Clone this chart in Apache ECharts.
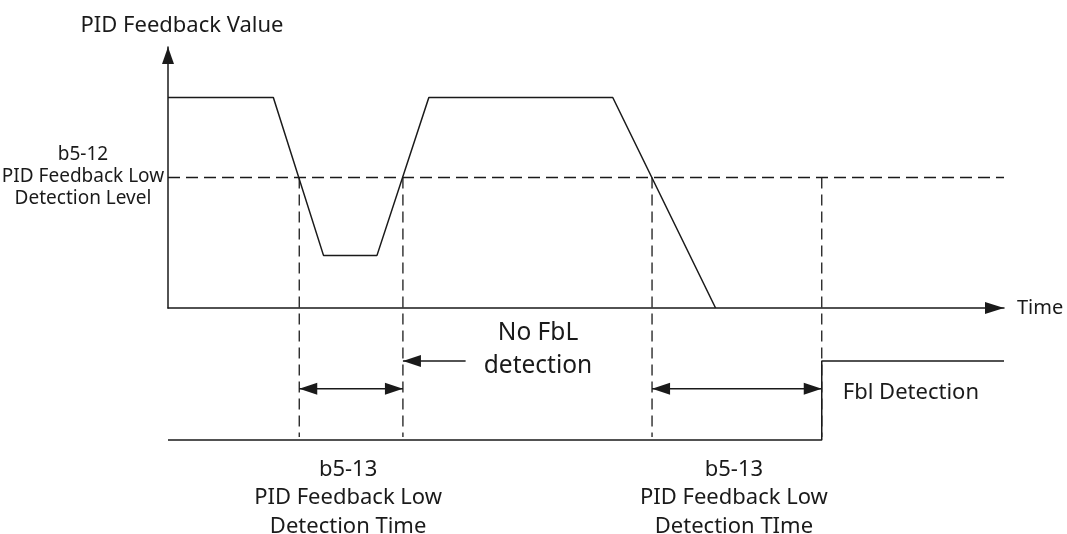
<!DOCTYPE html>
<html>
<head>
<meta charset="utf-8">
<script src="https://cdn.jsdelivr.net/npm/echarts@6/dist/echarts.min.js"></script>
<style>
html,body{margin:0;padding:0;background:#ffffff;}
#chart{width:1067px;height:534px;}
</style>
</head>
<body>
<div id="chart"></div>
<script>
// ---------- data ----------
const feedbackTime   = [0, 12.6, 18.6, 25, 31.2, 53.2, 65.5];
const feedbackValue  = [100, 100, 25, 25, 100, 100, 0];
const detectionLevel = 62;                 // b5-12 level
const signalTime     = [0, 78.2, 78.2, 100];
const signalValue    = [0, 0, 1, 1];       // FbL detection output
const markerTimes    = [15.7, 28.1, 57.9, 78.2];          // dashed verticals
const detectSpans    = [[15.7, 28.1], [57.9, 78.2]];      // b5-13 spans
const spanLevel      = 0.65;               // height of span arrows (signal units)
const noFblArrow     = [35.6, 28.1];       // tail -> tip time, at signal level 1
const timeMax        = 100;
const valueMax       = 124;

const yAxisTitle  = 'PID Feedback Value';
const xAxisTitle  = 'Time';
const levelLabel  = 'b5-12\nPID Feedback Low\nDetection Level';
const spanLabels  = ['b5-13\nPID Feedback Low\nDetection Time', 'b5-13\nPID Feedback Low\nDetection TIme'];
const noFblLabel  = 'No FbL\ndetection';
const fblLabel    = 'Fbl Detection';

// ---------- chart ----------
const INK = '#1a1a1a';
const FONT = '"Noto Sans", "Open Sans", sans-serif';
const chart = echarts.init(document.getElementById('chart'), null, {renderer: 'canvas'});

const zip = (xs, ys) => xs.map((x, i) => [x, ys[i]]);

chart.setOption({
  animation: false,
  backgroundColor: '#ffffff',
  grid: [
    {left: 168, right: 63, top: 47, height: 261, containLabel: false},
    {left: 168, right: 63, top: 361, height: 79, containLabel: false}
  ],
  xAxis: [
    {
      type: 'value', gridIndex: 0, min: 0, max: timeMax,
      name: xAxisTitle, nameLocation: 'end', nameGap: 13,
      nameTextStyle: {color: INK, fontSize: 20, fontFamily: FONT, padding: [0, 0, 5, 0]},
      axisLine: {show: true, onZero: false, lineStyle: {color: INK, width: 1.5},
                 symbol: ['none', 'triangle'], symbolSize: [12, 19], symbolOffset: [0, -9.5]},
      axisTick: {show: false}, axisLabel: {show: false}, splitLine: {show: false}
    },
    {
      type: 'value', gridIndex: 1, min: 0, max: timeMax, show: false
    }
  ],
  yAxis: [
    {
      type: 'value', gridIndex: 0, min: 0, max: valueMax,
      name: yAxisTitle, nameLocation: 'end', nameGap: 10,
      nameTextStyle: {color: INK, fontSize: 22, fontFamily: FONT, padding: [0, 0, 0, 28]},
      axisLine: {show: true, onZero: false, lineStyle: {color: INK, width: 1.5},
                 symbol: ['none', 'triangle'], symbolSize: [12, 17], symbolOffset: [0, -8.5]},
      axisTick: {show: false}, axisLabel: {show: false}, splitLine: {show: false}
    },
    {
      type: 'value', gridIndex: 1, min: 0, max: 1, show: false
    }
  ],
  series: [
    {
      type: 'line', xAxisIndex: 0, yAxisIndex: 0,
      data: zip(feedbackTime, feedbackValue),
      symbol: 'none', clip: false,
      lineStyle: {color: INK, width: 1.5}
    },
    {
      type: 'line', xAxisIndex: 0, yAxisIndex: 0,
      data: [[0, detectionLevel], [timeMax, detectionLevel]],
      symbol: 'none', clip: false,
      lineStyle: {color: INK, width: 1.3, type: [12, 6]}
    },
    {
      type: 'line', xAxisIndex: 1, yAxisIndex: 1,
      data: zip(signalTime, signalValue),
      symbol: 'none', clip: false,
      lineStyle: {color: INK, width: 1.5}
    }
  ]
});

// ---------- annotations placed through the chart's own scales ----------
function px0(t, v) { return chart.convertToPixel({gridIndex: 0}, [t, v]); }
function px1(t, v) { return chart.convertToPixel({gridIndex: 1}, [t, v]); }

const AH_LEN = 18, AH_HALF = 6;
function arrowHead(tip, dir) { // dir: +1 points right, -1 points left
  return {
    type: 'polygon', silent: true,
    shape: {points: [[tip[0], tip[1]], [tip[0] - dir * AH_LEN, tip[1] - AH_HALF], [tip[0] - dir * AH_LEN, tip[1] + AH_HALF]]},
    style: {fill: INK}
  };
}
function textEl(str, x, y, size, align, vAlign, lineHeight) {
  return {
    type: 'text', silent: true, x: x, y: y,
    style: {
      text: str, fill: INK, font: size + 'px ' + FONT,
      fontSize: size, fontFamily: FONT,
      align: align, textAlign: align,
      verticalAlign: vAlign, textVerticalAlign: vAlign,
      lineHeight: lineHeight
    }
  };
}

const graphics = [];
markerTimes.forEach(t => {
  const a = px0(t, detectionLevel), b = px1(t, 0);
  graphics.push({
    type: 'line', silent: true,
    shape: {x1: a[0], y1: a[1], x2: b[0], y2: b[1] - 3},
    style: {stroke: INK, lineWidth: 1.3, lineDash: [11, 6]}
  });
});
detectSpans.forEach((s, i) => {
  const a = px1(s[0], spanLevel), b = px1(s[1], spanLevel);
  graphics.push({type: 'line', silent: true, shape: {x1: a[0], y1: a[1], x2: b[0], y2: b[1]}, style: {stroke: INK, lineWidth: 1.5}});
  graphics.push(arrowHead(a, -1));
  graphics.push(arrowHead(b, 1));
  const mid = (a[0] + b[0]) / 2;
  graphics.push(textEl(spanLabels[i], mid - 3, 498, 22, 'center', 'middle', 28.5));
});
{
  const tail = px1(noFblArrow[0], 1), tip = px1(noFblArrow[1], 1);
  graphics.push({type: 'line', silent: true, shape: {x1: tail[0], y1: tail[1], x2: tip[0], y2: tip[1]}, style: {stroke: INK, lineWidth: 1.5}});
  graphics.push(arrowHead(tip, -1));
}
const lvl = px0(0, detectionLevel);
graphics.push(textEl(levelLabel, lvl[0] - 85, lvl[1] - 1, 19, 'center', 'middle', 22));
graphics.push(textEl(noFblLabel, 538, 350, 24.5, 'center', 'middle', 33));
const step = px1(signalTime[1], 0);
graphics.push(textEl(fblLabel, step[0] + 21, 393, 22, 'left', 'middle', 24));

chart.setOption({graphic: graphics});
</script>
</body>
</html>
